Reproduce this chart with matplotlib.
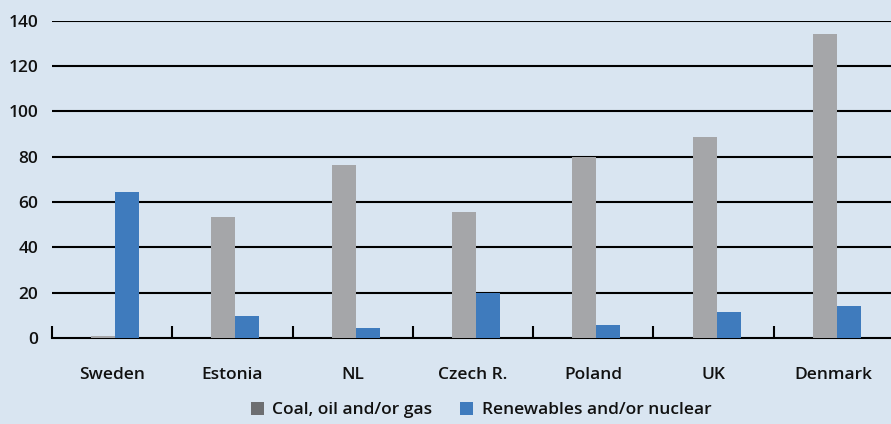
import matplotlib
matplotlib.use("Agg")
import matplotlib.pyplot as plt
from matplotlib.patches import Patch
import numpy as np

countries = ["Sweden", "Estonia", "NL", "Czech R.", "Poland", "UK", "Denmark"]
fossil = [0.8, 53.4, 76.4, 55.7, 80.0, 88.8, 134.3]
renew = [64.5, 9.7, 4.5, 19.9, 5.7, 11.5, 14.1]
yticks = [0, 20, 40, 60, 80, 100, 120, 140]
series_names = ["Coal, oil and/or gas", "Renewables and/or nuclear"]

bg = "#d9e5f1"
gray = "#a5a6a9"
blue = "#3f7bbd"
legend_gray = "#6d6e71"
txt = "#111111"

plt.rcParams['font.family'] = ['Open Sans', 'DejaVu Sans']

W, H = 891, 424
fig = plt.figure(figsize=(W / 100, H / 100), dpi=100, facecolor=bg)
left = 52 / W
bottom = 86 / H
width = (894 - 52) / W
height = (403.3 - 86) / H
ax = fig.add_axes([left, bottom, width, height])
ax.set_facecolor(bg)

x = np.arange(len(countries))
bw = 0.2
ax.bar(x - 0.075, fossil, width=bw, color=gray, zorder=3)
ax.bar(x + 0.125, renew, width=bw, color=blue, zorder=3)

ax.set_xlim(-0.5, len(countries) - 0.5)
ax.set_ylim(0, 140)
ax.set_yticks(yticks)
ax.set_yticklabels([str(v) for v in yticks], fontsize=12.5, color=txt, fontweight="semibold")
for v in yticks[1:]:
    ax.axhline(v, color="black", lw=1.5, zorder=2)

for s in ["top", "right", "left"]:
    ax.spines[s].set_visible(False)
ax.spines["bottom"].set_linewidth(1.5)
ax.spines["bottom"].set_color("black")
ax.spines["bottom"].set_zorder(2)

ax.tick_params(axis="y", length=0, pad=10)
ax.set_xticks(x)
ax.set_xticklabels(countries, fontsize=12.5, color=txt, fontweight="semibold")
ax.tick_params(axis="x", length=0, pad=21)
# boundary ticks pointing up
ax.set_xticks(np.arange(len(countries)) - 0.5, minor=True)
ax.tick_params(axis="x", which="minor", direction="in", length=9, width=1.5, color="black")

handles = [Patch(facecolor=legend_gray, edgecolor="none"), Patch(facecolor=blue, edgecolor="none")]
fig.legend(handles, series_names, loc="center", bbox_to_anchor=(481 / W, 1 - 410 / H),
           ncol=2, frameon=False, prop={"size": 12.5, "weight": "semibold"}, handlelength=0.75,
           handleheight=0.75, handletextpad=0.5, columnspacing=1.6, labelcolor=txt)

fig.savefig("out.png", dpi=100, facecolor=bg)
